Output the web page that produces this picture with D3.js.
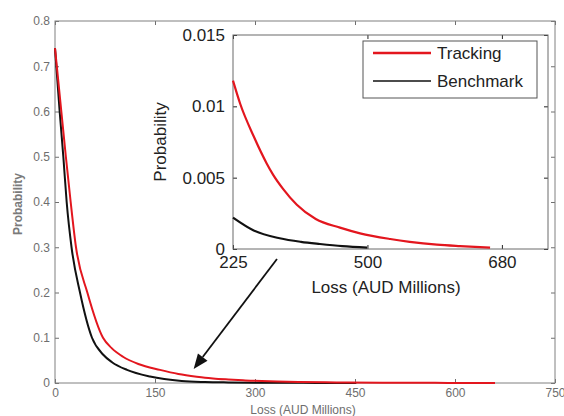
<!DOCTYPE html>
<html>
<head>
<meta charset="utf-8">
<script src="https://cdn.jsdelivr.net/npm/d3@7"></script>
<style>
  body { margin: 0; background: #fff; }
  svg text { font-family: "Liberation Sans", Arial, sans-serif; }
</style>
</head>
<body>
<div id="chart"></div>
<script>
var w = 564,
    h = 416;

// series
var seriesNames = ["Tracking", "Benchmark"];
var seriesColors = ["#e3161e", "#111111"];

// Tracking: loss (AUD millions) / probability
var trackingLoss = [0, 9.5, 16.3, 23.5, 31.5, 48.5, 72, 85, 102, 125, 157.5, 185, 212.5,
                    225, 237, 260, 282, 293, 310, 333, 365, 406, 440, 491, 524, 570, 609, 660];
var trackingProb = [0.74, 0.6, 0.5, 0.4, 0.3, 0.2, 0.1, 0.077, 0.058, 0.042, 0.029, 0.02, 0.014,
                    0.0118, 0.0102, 0.0079, 0.006, 0.0052, 0.0042, 0.0031, 0.0021, 0.0015, 0.0011, 0.0007, 0.0005, 0.0003, 0.0002, 0.0001];

// Benchmark
var benchLoss = [0, 7, 12.5, 17.5, 24.8, 37.5, 55.5, 72, 85.5, 108, 142.5, 190,
                 225, 260, 304, 340, 372, 410, 452];
var benchProb = [0.74, 0.6, 0.5, 0.4, 0.3, 0.2, 0.1, 0.063, 0.046, 0.029, 0.0144, 0.0045,
                 0.0022, 0.0013, 0.00075, 0.0005, 0.00035, 0.0002, 0.0001];

// axes ticks
var mainXTicks = [0, 150, 300, 450, 600, 750];
var mainYTicks = [0, 0.1, 0.2, 0.3, 0.4, 0.5, 0.6, 0.7, 0.8];
var insetXTicks = [225, 452.5, 680];
var insetXTickLabels = ["225", "500", "680"];
var insetYTicks = [0, 0.005, 0.01, 0.015];
var insetYTickLabels = ["0", "0.005", "0.01", "0.015"];

// arrow annotation (main chart data coords)
var arrowFrom = [333, 0.274];
var arrowTo = [208, 0.031];

var series = [
  trackingLoss.map(function(d, i){ return {x: d, y: trackingProb[i]}; }),
  benchLoss.map(function(d, i){ return {x: d, y: benchProb[i]}; })
];

var svg = d3.select("#chart").append("svg")
  .attr("width", w)
  .attr("height", h);

//메인 차트
var x = d3.scaleLinear().domain([0, 750]).range([55, 555]);
var y = d3.scaleLinear().domain([0, 0.8]).range([383, 21]);

var mainGray = "#6e6e6e";

function styleAxis(g, col, size) {
  g.select(".domain").remove();
  g.selectAll("line").attr("stroke", col);
  g.selectAll("text").attr("fill", col).attr("font-size", size);
}

svg.append("g")
  .attr("transform", "translate(0,383)")
  .call(d3.axisBottom(x).tickValues(mainXTicks).tickSizeInner(-4).tickSizeOuter(0).tickPadding(5)
    .tickFormat(d3.format("d")))
  .call(styleAxis, mainGray, "12px");
svg.append("g")
  .attr("transform", "translate(55,0)")
  .call(d3.axisLeft(y).tickValues(mainYTicks).tickSizeInner(-4).tickSizeOuter(0).tickPadding(5)
    .tickFormat(function(d){ return d === 0 ? "0" : d3.format(".1f")(d); }))
  .call(styleAxis, mainGray, "12px");
svg.append("g")
  .attr("transform", "translate(0,21)")
  .call(d3.axisTop(x).tickValues(mainXTicks).tickSizeInner(-4).tickSizeOuter(0).tickFormat(""))
  .call(styleAxis, mainGray, "12px");
svg.append("g")
  .attr("transform", "translate(555,0)")
  .call(d3.axisRight(y).tickValues(mainYTicks).tickSizeInner(-4).tickSizeOuter(0).tickFormat(""))
  .call(styleAxis, mainGray, "12px");

svg.append("rect")
  .attr("x", 55).attr("y", 21)
  .attr("width", 500).attr("height", 362)
  .attr("fill", "none")
  .attr("stroke", "#808080");

var line = d3.line()
  .x(function(d){ return x(d.x); })
  .y(function(d){ return y(d.y); })
  .curve(d3.curveMonotoneX);

// 검정 먼저, 빨강 위에
[1, 0].forEach(function(i){
  svg.append("path")
    .datum(series[i])
    .attr("d", line)
    .attr("fill", "none")
    .attr("stroke", seriesColors[i])
    .attr("stroke-width", 2);
});

svg.append("text")
  .attr("x", 303).attr("y", 414)
  .attr("text-anchor", "middle")
  .attr("font-size", "12px")
  .attr("fill", mainGray)
  .text("Loss (AUD Millions)");

svg.append("text")
  .attr("transform", "translate(22,204) rotate(-90)")
  .attr("text-anchor", "middle")
  .attr("font-size", "12px")
  .attr("font-weight", "bold")
  .attr("fill", "#7a7a7a")
  .text("Probability");

// 화살표
var ax0 = x(arrowFrom[0]), ay0 = y(arrowFrom[1]),
    ax1 = x(arrowTo[0]), ay1 = y(arrowTo[1]);
var ang = Math.atan2(ay1 - ay0, ax1 - ax0);
var headLen = 15, headW = 6;
var bx = ax1 - headLen * Math.cos(ang), by = ay1 - headLen * Math.sin(ang);
svg.append("line")
  .attr("x1", ax0).attr("y1", ay0)
  .attr("x2", bx).attr("y2", by)
  .attr("stroke", "#111")
  .attr("stroke-width", 1.8);
svg.append("polygon")
  .attr("points", [
    [ax1, ay1],
    [bx + headW * Math.sin(ang), by - headW * Math.cos(ang)],
    [bx - headW * Math.sin(ang), by + headW * Math.cos(ang)]
  ].map(function(p){ return p.join(","); }).join(" "))
  .attr("fill", "#111");

//인셋 차트
var ix = d3.scaleLinear().domain([225, 758]).range([233, 548]);
var iy = d3.scaleLinear().domain([0, 0.015]).range([249, 35]);
var insetCol = "#222";

svg.append("rect")
  .attr("x", 233).attr("y", 35)
  .attr("width", 315).attr("height", 214)
  .attr("fill", "#fff");

svg.append("g")
  .attr("transform", "translate(0,249)")
  .call(d3.axisBottom(ix).tickValues(insetXTicks).tickSizeInner(-4).tickSizeOuter(0).tickPadding(7)
    .tickFormat(function(d, i){ return insetXTickLabels[i]; }))
  .call(styleAxis, insetCol, "17px");
svg.append("g")
  .attr("transform", "translate(233,0)")
  .call(d3.axisLeft(iy).tickValues(insetYTicks).tickSizeInner(-4).tickSizeOuter(0).tickPadding(8)
    .tickFormat(function(d, i){ return insetYTickLabels[i]; }))
  .call(styleAxis, insetCol, "17px");
svg.append("g")
  .attr("transform", "translate(0,35)")
  .call(d3.axisTop(ix).tickValues(insetXTicks).tickSizeInner(-4).tickSizeOuter(0).tickFormat(""))
  .call(styleAxis, insetCol, "17px");
svg.append("g")
  .attr("transform", "translate(548,0)")
  .call(d3.axisRight(iy).tickValues(insetYTicks).tickSizeInner(-4).tickSizeOuter(0).tickFormat(""))
  .call(styleAxis, insetCol, "17px");

svg.append("rect")
  .attr("x", 233).attr("y", 35)
  .attr("width", 315).attr("height", 214)
  .attr("fill", "none")
  .attr("stroke", "#6a6a6a");

var iline = d3.line()
  .x(function(d){ return ix(d.x); })
  .y(function(d){ return iy(d.y); })
  .curve(d3.curveMonotoneX);

[1, 0].forEach(function(i){
  svg.append("path")
    .datum(series[i].filter(function(d){ return d.x >= 225; }))
    .attr("d", iline)
    .attr("fill", "none")
    .attr("stroke", seriesColors[i])
    .attr("stroke-width", 2.2);
});

svg.append("text")
  .attr("x", 386).attr("y", 293)
  .attr("text-anchor", "middle")
  .attr("font-size", "17px")
  .attr("fill", insetCol)
  .text("Loss (AUD Millions)");

svg.append("text")
  .attr("transform", "translate(166,142) rotate(-90)")
  .attr("text-anchor", "middle")
  .attr("font-size", "17px")
  .attr("fill", insetCol)
  .text("Probability");

// 레전드
var legend = svg.append("g")
  .attr("transform", "translate(363,41)");
legend.append("rect")
  .attr("width", 174).attr("height", 57)
  .attr("fill", "#fff")
  .attr("stroke", "#555");
legend.selectAll("line.key")
  .data(seriesNames)
  .enter()
  .append("line")
  .attr("class", "key")
  .attr("x1", 10).attr("x2", 68)
  .attr("y1", function(d, i){ return 12 + i * 28; })
  .attr("y2", function(d, i){ return 12 + i * 28; })
  .attr("stroke", function(d, i){ return seriesColors[i]; })
  .attr("stroke-width", function(d, i){ return i == 0 ? 2.5 : 1.5; });
legend.selectAll("text")
  .data(seriesNames)
  .enter()
  .append("text")
  .attr("x", 74)
  .attr("y", function(d, i){ return 18 + i * 28; })
  .attr("font-size", "17px")
  .attr("fill", insetCol)
  .text(function(d){ return d; });
</script>
</body>
</html>
